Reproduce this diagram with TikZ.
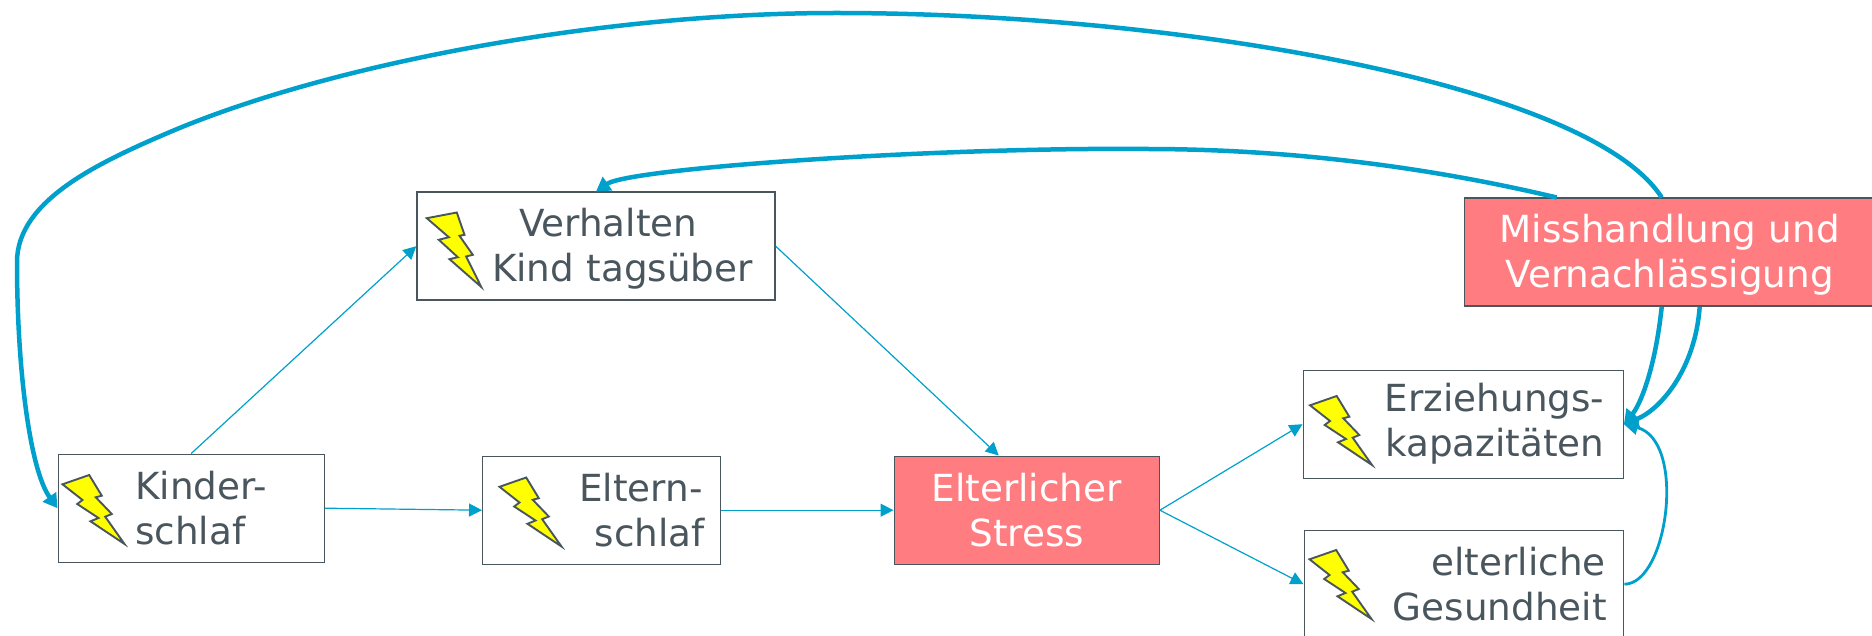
\documentclass[tikz,border=0pt]{standalone}
\usepackage{fontspec}
\setmainfont{DejaVu Sans}
\usetikzlibrary{arrows.meta}
\definecolor{inkdark}{HTML}{4A565E}
\definecolor{linkblue}{HTML}{00A0CC}
\definecolor{alarm}{HTML}{FF7C80}
\definecolor{boltyellow}{HTML}{FFFF00}
\tikzset{
  x=1pt,y=-1pt,
  boxed/.style={draw=inkdark,line width=1.4pt,fill=white,text=inkdark,anchor=north west,inner sep=0pt,
    font=\fontsize{37.3}{45}\selectfont,minimum height=108pt},
  hot/.style={boxed,fill=alarm,text=white},
  thinlink/.style={draw=linkblue,line width=1.2pt,-{Triangle[length=13pt,width=13pt]}},
  thicklink/.style={draw=linkblue,line width=4.5pt,-{Triangle[length=14pt,width=16pt]}},
  medlink/.style={draw=linkblue,line width=2.8pt,-{Triangle[length=14pt,width=14pt]}},
  boltshape/.style={draw=inkdark,line width=1.9pt,fill=boltyellow,line join=miter},
}
\newcommand{\boltin}[3]{%
  \draw[boltshape,shift={([xshift=#2pt,yshift=-#3pt]#1.north west)}]
    (0,9.3)--(26.7,0)--(39.3,20.7)--(33.3,22.3)--(49.3,39)--(42.7,41.7)--(62,69)--(28,46.3)--(36,43)--(14.7,29)--(20,25)--cycle;}
\newcommand{\boltalt}[3]{%
  \draw[boltshape,shift={([xshift=#2pt,yshift=-#3pt]#1.north west)}]
    (0,5.7)--(30,0)--(37.7,22.3)--(32.7,23.3)--(46,42.3)--(39.3,44)--(54.5,74.5)--(22.7,46.7)--(31,44.7)--(12,27.3)--(22,24.7)--cycle;}
\begin{document}
\begin{tikzpicture}
\useasboundingbox (0,0) rectangle (1872,636);
\node[boxed,minimum width=266pt,text width=266pt,align=left] (kinder) at (57.5,453.5) {\hspace*{77pt}Kinder-\\\hspace*{77pt}schlaf};
\node[boxed,minimum width=238pt,text width=238pt,align=right] (eltern) at (482,455.5) {Eltern-\hspace*{18pt}\mbox{}\\schlaf\hspace*{16pt}\mbox{}};
\node[hot,minimum width=265pt,text width=265pt,align=center] (stress) at (893.5,455.5) {Elterlicher\\Stress};
\node[boxed,minimum width=358pt,text width=358pt,align=left] (verh) at (416.3,191.5) {\rule{0pt}{33pt}\hspace*{102pt}Verhalten\\\hspace*{75pt}Kind tagsüber};
\node[hot,minimum width=410pt,text width=410pt,align=center] (miss) at (1464,197.5) {\rule{0pt}{34pt}Misshandlung und\\Vernachlässigung};
\node[boxed,minimum width=320pt,text width=320pt,align=right] (erz) at (1302.5,369.5) {Erziehungs-\hspace*{19pt}\mbox{}\\kapazitäten\hspace*{19pt}\mbox{}};
\node[boxed,minimum width=319.5pt,text width=319.5pt,align=right] (ges) at (1303.5,529.5) {elterliche\hspace*{18pt}\mbox{}\\Gesundheit\hspace*{17pt}\mbox{}};
\boltin{kinder}{5}{21.5}
\boltin{eltern}{17.5}{22}
\boltalt{verh}{10.5}{21}
\boltin{erz}{7.5}{26.5}
\boltin{ges}{6}{20.5}
\draw[thinlink] (kinder.north) -- (verh.west);
\draw[thinlink] (kinder.east) -- (eltern.west);
\draw[thinlink] (eltern.east) -- (stress.west);
\draw[thinlink] (verh.east) -- ([xshift=-28pt]stress.north);
\draw[thinlink] (stress.east) -- (erz.west);
\draw[thinlink] (stress.east) -- (ges.west);
\draw[medlink] (ges.east) .. controls (1668,584) and (1687,440) .. (erz.east);
\draw[thicklink] ([xshift=-8pt]miss.south) .. controls (1655,370) and (1640,405) .. (erz.east);
\draw[thicklink] ([xshift=30pt]miss.south) .. controls (1695,370) and (1660,410) .. (erz.east);
\draw[thicklink] ([xshift=-113pt]miss.north) .. controls (1420,165) and (1280,149) .. (1146,149) .. controls (940,147) and (630,168) .. (verh.north);
\draw[thicklink] ([xshift=-8pt]miss.north) .. controls (1590,85) and (1180,13) .. (836,13) .. controls (600,13) and (330,64) .. (170,132) .. controls (100,162) and (17,200) .. (17,262) .. controls (17,370) and (30,470) .. (kinder.west);
\end{tikzpicture}
\end{document}
